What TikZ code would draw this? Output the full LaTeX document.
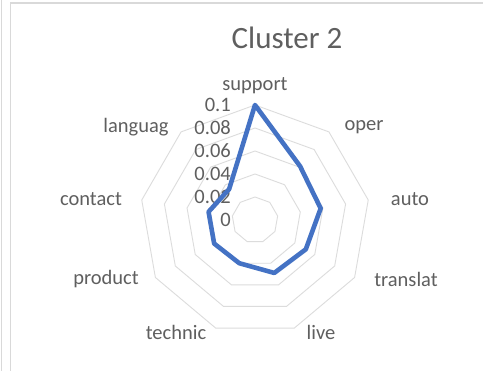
\documentclass[tikz,border=0pt]{standalone}
\usepackage{fontspec}
\setmainfont{Carlito}
\usetikzlibrary{calc}
\definecolor{txtgray}{HTML}{5F5F5F}
\definecolor{gridgray}{HTML}{DCDCDC}
\definecolor{frame}{HTML}{D9D9D9}
\definecolor{series}{HTML}{4472C4}
\begin{document}
\begin{tikzpicture}[x=1pt,y=1pt,
  axlabel/.style={text=txtgray,font=\fontsize{20.5}{22}\selectfont,inner sep=0pt},
  ticklabel/.style={text=txtgray,font=\fontsize{20.5}{22}\selectfont,inner sep=0pt,anchor=east},
  ring/.style={draw=gridgray,line width=0.9pt},
  dataline/.style={draw=series,line width=4.6pt,line join=round}]
\useasboundingbox (0,0) rectangle (483,371);
\fill[white] (0,0) rectangle (483,371);
% frame
\draw[frame,line width=1pt] (1,0) -- (1,371);
\draw[frame,line width=1.2pt] (10.5,0) -- (10.5,368) -- (483,368);
% title
\node[text=txtgray,font=\fontsize{31}{34}\selectfont,inner sep=0pt] (title) at (287,333) {Cluster 2};
\coordinate (c) at (255,151);
% rings
\foreach \k in {1,...,5}{
  \draw[ring] ($(c)+(90:\k*23)$) \foreach \i in {1,...,8}{ -- ($(c)+(90-\i*40:\k*23)$)} -- cycle;
}
% tick labels
\node[ticklabel] (t0) at (231,151) {0};
\node[ticklabel] (t1) at (231,174) {0.02};
\node[ticklabel] (t2) at (231,197) {0.04};
\node[ticklabel] (t3) at (231,220) {0.06};
\node[ticklabel] (t4) at (231,243) {0.08};
\node[ticklabel] (t5) at (231,266) {0.1};
% axis labels
\node[axlabel] (support) at (255,285) {support};
\node[axlabel] (oper) at (364,244) {oper};
\node[axlabel] (auto) at (410,172) {auto};
\node[axlabel] (translat) at (406,92) {translat};
\node[axlabel] (live) at (321,39) {live};
\node[axlabel] (technic) at (176,39) {technic};
\node[axlabel] (product) at (106,92) {product};
\node[axlabel] (contact) at (91,172) {contact};
\node[axlabel] (languag) at (136,244) {languag};
% data
\coordinate (d0) at ($(c)+(90:115)$);
\coordinate (d1) at ($(c)+(50:0.061*1150)$);
\coordinate (d2) at ($(c)+(10:0.058*1150)$);
\coordinate (d3) at ($(c)+(-30:0.051*1150)$);
\coordinate (d4) at ($(c)+(-70:0.049*1150)$);
\coordinate (d5) at ($(c)+(-110:0.040*1150)$);
\coordinate (d6) at ($(c)+(-150:0.041*1150)$);
\coordinate (d7) at ($(c)+(170:0.041*1150)$);
\coordinate (d8) at ($(c)+(130:0.035*1150)$);
\draw[dataline] (d0) -- (d1) -- (d2) -- (d3) -- (d4) -- (d5) -- (d6) -- (d7) -- (d8) -- cycle;
\end{tikzpicture}
\end{document}
